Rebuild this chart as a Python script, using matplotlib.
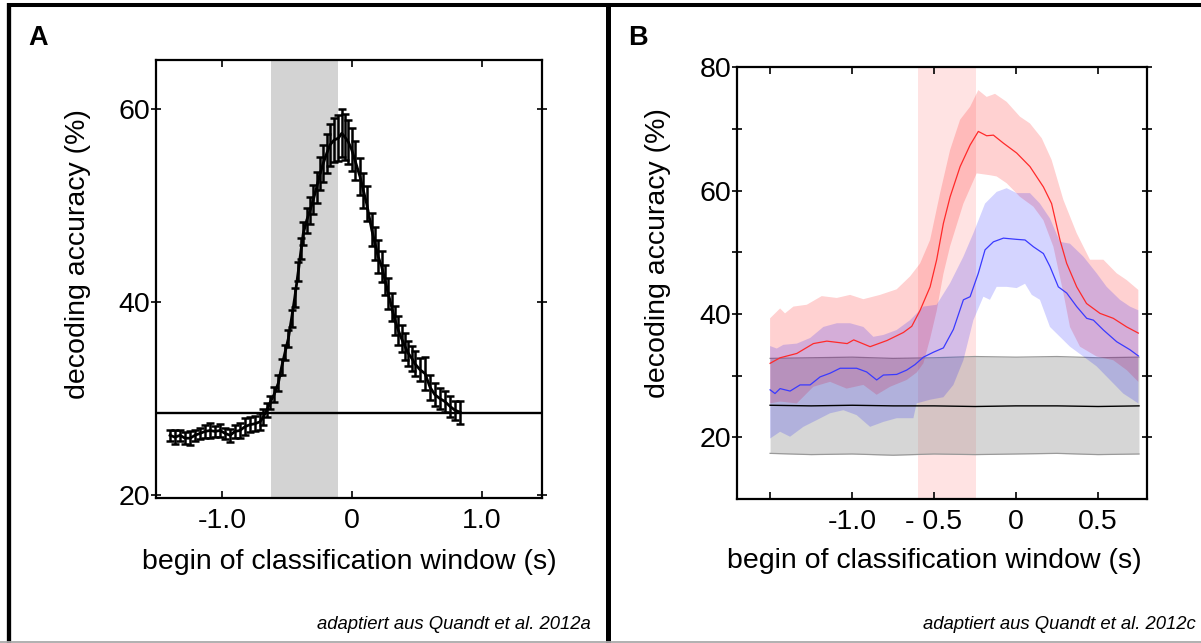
import numpy as np
import matplotlib
matplotlib.use("Agg")
import matplotlib.pyplot as plt
from matplotlib.lines import Line2D

plt.rcParams['font.family'] = ['Liberation Sans', 'DejaVu Sans']

# ---------------- Panel A data ----------------
A_time = [-1.400, -1.362, -1.323, -1.285, -1.246, -1.208, -1.169, -1.131, -1.092, -1.054,
          -1.015, -0.977, -0.938, -0.900, -0.862, -0.823, -0.785, -0.746, -0.708, -0.682,
          -0.656, -0.630, -0.600, -0.567, -0.541, -0.515, -0.490, -0.465, -0.440, -0.413,
          -0.390, -0.375, -0.348, -0.323, -0.298, -0.272, -0.246, -0.221, -0.195, -0.169,
          -0.138, -0.105, -0.079, -0.054, -0.028, -0.002, 0.023, 0.062, 0.087, 0.113,
          0.152, 0.177, 0.202, 0.228, 0.254, 0.279, 0.305, 0.331, 0.356, 0.382,
          0.408, 0.433, 0.459, 0.485, 0.523, 0.562, 0.600, 0.638, 0.677, 0.715,
          0.754, 0.792, 0.831]
A_acc = [26.2, 26.0, 26.2, 25.9, 25.9, 26.2, 26.4, 26.6, 26.7, 26.6,
         26.7, 26.4, 26.2, 26.6, 26.7, 27.1, 27.3, 27.4, 27.6, 28.1,
         28.8, 29.6, 30.4, 31.6, 33.3, 34.8, 36.2, 38.3, 40.5, 43.2,
         45.6, 47.1, 48.5, 49.5, 50.6, 51.9, 53.3, 54.4, 55.4, 56.3,
         56.8, 57.0, 57.5, 57.1, 56.6, 55.8, 54.7, 53.0, 51.6, 50.2,
         47.5, 46.1, 44.7, 43.7, 42.3, 40.9, 39.5, 38.1, 37.1, 36.2,
         35.4, 34.7, 34.2, 33.6, 33.0, 32.6, 31.2, 30.4, 30.0, 29.7,
         29.2, 28.8, 28.6]
A_err = [0.6, 0.7, 0.6, 0.6, 0.7, 0.6, 0.6, 0.7, 0.8, 0.6,
         0.7, 0.6, 0.7, 0.7, 0.8, 0.9, 0.8, 0.8, 0.9, 0.8,
         0.7, 0.7, 0.8, 0.8, 0.8, 0.8, 0.9, 0.9, 1.0, 1.0,
         1.1, 1.2, 1.3, 1.4, 1.5, 1.6, 1.7, 1.9, 2.0, 2.2,
         2.3, 2.4, 2.5, 2.4, 2.3, 2.2, 2.0, 1.9, 1.8, 1.8,
         1.7, 1.7, 1.7, 1.6, 1.6, 1.6, 1.5, 1.5, 1.5, 1.4,
         1.4, 1.3, 1.3, 1.3, 1.2, 1.7, 1.3, 1.2, 1.1, 1.1,
         1.1, 1.0, 1.2]
A_chance = 28.5
A_span = (-0.62, -0.11)

# ---------------- Panel B data ----------------
red_mean_t = [-1.5, -1.439, -1.337, -1.236, -1.154, -1.030, -0.990, -0.890, -0.787, -0.687,
              -0.636, -0.585, -0.524, -0.484, -0.443, -0.402, -0.341, -0.280, -0.230, -0.179,
              -0.138, -0.077, 0.004, 0.085, 0.167, 0.217, 0.268, 0.309, 0.370, 0.430,
              0.512, 0.593, 0.675, 0.746]
red_mean_v = [32.0, 32.9, 33.6, 35.2, 35.6, 35.2, 35.8, 34.7, 35.7, 37.0,
              38.0, 40.6, 44.4, 48.8, 54.7, 59.0, 63.9, 67.4, 69.6, 68.9,
              69.0, 67.7, 66.1, 63.9, 60.6, 57.9, 52.0, 48.2, 44.4, 41.7,
              40.1, 39.3, 37.9, 36.9]

red_up_t = [-1.5, -1.439, -1.409, -1.358, -1.276, -1.185, -1.093, -1.012, -0.931, -0.829,
            -0.728, -0.646, -0.585, -0.524, -0.463, -0.402, -0.341, -0.280, -0.230, -0.179,
            -0.128, -0.057, 0.024, 0.085, 0.157, 0.217, 0.289, 0.370, 0.451, 0.533,
            0.614, 0.675, 0.746]
red_up_v = [39.3, 40.9, 40.1, 41.2, 41.5, 42.9, 42.6, 43.1, 42.4, 43.1,
            44.0, 46.1, 48.2, 52.0, 59.6, 66.6, 71.5, 73.6, 76.3, 75.2,
            75.7, 74.4, 72.0, 70.9, 68.5, 65.0, 58.5, 53.1, 48.8, 48.8,
            46.6, 45.5, 43.9]

red_lo_t = [-1.5, -1.439, -1.337, -1.236, -1.134, -1.033, -0.931, -0.850, -0.768, -0.667,
            -0.606, -0.565, -0.524, -0.484, -0.443, -0.402, -0.321, -0.240, -0.159, -0.118,
            -0.057, 0.024, 0.106, 0.167, 0.228, 0.289, 0.329, 0.390, 0.492, 0.593,
            0.675, 0.746]
red_lo_v = [25.5, 25.8, 25.5, 28.2, 29.0, 27.9, 28.5, 26.9, 28.2, 29.3,
            30.5, 32.0, 36.0, 40.5, 46.5, 51.0, 57.9, 62.8, 62.5, 62.3,
            61.2, 59.0, 57.4, 55.2, 50.9, 43.4, 37.9, 34.7, 33.1, 32.5,
            30.9, 29.0]

blue_mean_t = [-1.5, -1.470, -1.439, -1.378, -1.317, -1.256, -1.195, -1.134, -1.073, -0.972,
               -0.911, -0.850, -0.809, -0.728, -0.667, -0.616, -0.565, -0.504, -0.443, -0.382,
               -0.321, -0.280, -0.230, -0.189, -0.138, -0.077, 0.004, 0.055, 0.106, 0.167,
               0.207, 0.258, 0.309, 0.370, 0.431, 0.472, 0.533, 0.614, 0.695, 0.746]
blue_mean_v = [27.7, 27.1, 27.9, 27.5, 28.5, 28.5, 29.8, 30.4, 31.2, 31.2,
               30.6, 29.3, 30.1, 30.2, 30.9, 31.8, 33.0, 33.8, 34.5, 37.5,
               42.3, 42.8, 46.6, 50.4, 51.7, 52.3, 52.1, 52.0, 50.9, 49.8,
               47.7, 44.4, 43.4, 41.2, 39.3, 39.0, 37.4, 35.5, 34.2, 33.2]

blue_up_t = [-1.5, -1.459, -1.419, -1.337, -1.256, -1.175, -1.093, -1.012, -0.931, -0.870,
             -0.809, -0.728, -0.646, -0.565, -0.484, -0.402, -0.321, -0.260, -0.189, -0.118,
             -0.057, 0.004, 0.085, 0.146, 0.207, 0.268, 0.329, 0.411, 0.492, 0.553,
             0.634, 0.695, 0.746]
blue_up_v = [34.8, 34.4, 35.0, 35.2, 36.1, 37.9, 38.5, 38.5, 37.9, 36.3,
             36.6, 37.4, 39.0, 41.2, 41.5, 45.0, 49.3, 53.1, 57.9, 59.8,
             60.4, 59.6, 59.6, 57.9, 55.5, 51.7, 51.4, 49.3, 46.6, 44.4,
             42.3, 41.2, 40.6]

blue_lo_t = [-1.5, -1.439, -1.378, -1.297, -1.215, -1.134, -1.053, -0.972, -0.890, -0.809,
             -0.728, -0.626, -0.606, -0.524, -0.443, -0.382, -0.321, -0.260, -0.199, -0.159,
             -0.118, -0.057, 0.004, 0.055, 0.096, 0.146, 0.207, 0.268, 0.329, 0.411,
             0.492, 0.573, 0.654, 0.746]
blue_lo_v = [19.8, 20.9, 20.1, 21.7, 22.8, 23.9, 24.4, 23.6, 21.7, 22.5,
             23.1, 23.1, 25.5, 26.1, 26.5, 28.5, 32.5, 39.0, 42.8, 42.3,
             44.4, 44.4, 44.2, 44.9, 43.1, 42.3, 37.9, 36.3, 34.7, 33.1,
             31.5, 29.3, 27.1, 25.5]

gray_t = [-1.5, -1.25, -1.0, -0.75, -0.5, -0.25, 0.0, 0.25, 0.5, 0.75]
gray_up = [32.8, 32.9, 33.0, 32.8, 32.9, 33.1, 33.0, 33.1, 32.9, 33.0]
gray_lo = [17.4, 17.2, 17.3, 17.1, 17.3, 17.2, 17.3, 17.4, 17.2, 17.3]
chance_v = [25.2, 25.1, 25.2, 25.1, 25.1, 25.0, 25.1, 25.1, 25.0, 25.1]
B_span = (-0.6, -0.245)

# ---------------- Figure ----------------
W, H = 1201, 643
fig = plt.figure(figsize=(W / 100, H / 100), dpi=100)

FS = 20.5

# ---- Panel A ----
axA = fig.add_axes([156 / W, 1 - 498 / H, (542 - 156) / W, (498 - 60) / H])
axA.axvspan(*A_span, color='#d3d3d3', lw=0, zorder=0)
axA.axhline(A_chance, color='k', lw=1.7, zorder=2)
axA.errorbar(A_time, A_acc, yerr=A_err, color='k', lw=2.0, elinewidth=1.8,
             capsize=2.6, capthick=1.8, zorder=3)
axA.set_xlim(-1.508, 1.462)
axA.set_ylim(19.7, 65.1)
axA.set_xticks([-1, 0, 1], labels=['-1.0', '0', '1.0'])
axA.set_yticks([20, 40, 60], labels=['20', '40', '60'])
axA.set_xlabel('begin of classification window (s)', fontsize=FS, va='center')
axA.xaxis.set_label_coords(0.5, (498 - 562) / 438)
axA.set_ylabel('decoding accuracy (%)', fontsize=FS, va='center', ha='center')
axA.yaxis.set_label_coords((77.5 - 156) / 386, (498 - 254) / 438)

# ---- Panel B ----
axB = fig.add_axes([737.3 / W, 1 - 499 / H, (1146.7 - 737.3) / W, (499 - 67.3) / H])
axB.axvspan(*B_span, color='red', alpha=0.11, lw=0, zorder=0)
axB.fill_between(gray_t, gray_lo, gray_up, color=(0.55, 0.55, 0.55), alpha=0.35, lw=0, zorder=1)
axB.plot(gray_t, gray_up, color='#9a9a9a', lw=0.9, zorder=2)
axB.plot(gray_t, gray_lo, color='#9a9a9a', lw=0.9, zorder=2)
axB.fill(np.concatenate([red_up_t, red_lo_t[::-1]]),
         np.concatenate([red_up_v, red_lo_v[::-1]]),
         color='red', alpha=0.18, lw=0, zorder=3)
axB.fill(np.concatenate([blue_up_t, blue_lo_t[::-1]]),
         np.concatenate([blue_up_v, blue_lo_v[::-1]]),
         color='blue', alpha=0.17, lw=0, zorder=4)
axB.plot(gray_t, chance_v, color='k', lw=1.0, zorder=5)
axB.plot(red_mean_t, red_mean_v, color='#ff2a2a', lw=0.9, zorder=6)
axB.plot(blue_mean_t, blue_mean_v, color='#3a3aff', lw=0.9, zorder=6)
axB.set_xlim(-1.70, 0.797)
axB.set_ylim(10, 80)
axB.set_xticks([-1.5, -1.0, -0.5, 0, 0.5], labels=['', '-1.0', '- 0.5', '0', '0.5'])
axB.set_yticks([20, 30, 40, 50, 60, 70, 80], labels=['20', '', '40', '', '60', '', '80'])
axB.set_xlabel('begin of classification window (s)', fontsize=FS, va='center')
axB.xaxis.set_label_coords((934.4 - 737.3) / 409.4, (499 - 561) / 431.7)
axB.set_ylabel('decoding accuracy (%)', fontsize=FS, va='center', ha='center')
axB.yaxis.set_label_coords((658 - 737.3) / 409.4, (499 - 253) / 431.7)

for ax in (axA, axB):
    for s in ax.spines.values():
        s.set_linewidth(1.6)
    ax.tick_params(axis='x', direction='in', top=True, bottom=True, length=5,
                   width=1.2, labelsize=FS, pad=7)
    ax.tick_params(axis='y', direction='inout', left=True, right=True, length=7,
                   width=1.2, labelsize=FS, pad=1)

# ---- Panel letters & credits ----
fig.text(28 / W, 1 - 45 / H, 'A', fontsize=19.5, fontweight='bold', va='baseline', ha='left')
fig.text(628 / W, 1 - 45 / H, 'B', fontsize=19.5, fontweight='bold', va='baseline', ha='left')
fig.text(591 / W, 1 - 629 / H, 'adaptiert aus Quandt et al. 2012a', fontsize=13.3,
         style='italic', ha='right', va='baseline')
fig.text(1196 / W, 1 - 629 / H, 'adaptiert aus Quandt et al. 2012c', fontsize=13.3,
         style='italic', ha='right', va='baseline')

# ---- Frame ----
fig.add_artist(Line2D([7 / W, 1.0], [1 - 5.3 / H, 1 - 5.3 / H], color='k', lw=2.9,
                      transform=fig.transFigure, solid_capstyle='butt'))
fig.add_artist(Line2D([9.3 / W, 9.3 / W], [0, 1 - 3.3 / H], color='k', lw=3.1,
                      transform=fig.transFigure, solid_capstyle='butt'))
fig.add_artist(Line2D([607.5 / W, 607.5 / W], [0, 1 - 3.3 / H], color='k', lw=3.6,
                      transform=fig.transFigure, solid_capstyle='butt'))
fig.add_artist(Line2D([0, 1.0], [1 - 641.7 / H, 1 - 641.7 / H], color='#aaaaaa', lw=1.3,
                      transform=fig.transFigure, solid_capstyle='butt'))

fig.savefig('out.png', dpi=100)
